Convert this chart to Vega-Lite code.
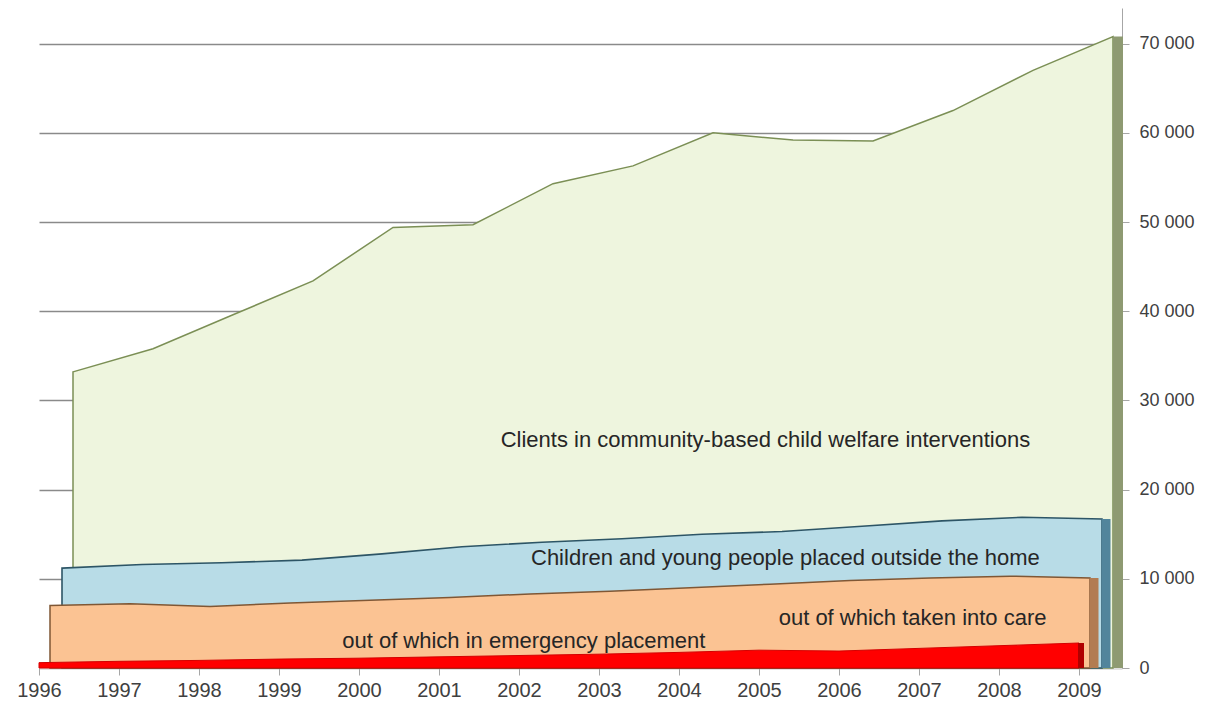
{
  "$schema": "https://vega.github.io/schema/vega-lite/v6.json",
  "width": 1083,
  "height": 660,
  "autosize": {"type": "none"},
  "padding": {"left": 39, "top": 8, "right": 86, "bottom": 45},
  "background": "white",
  "config": {"view": {"stroke": null}},
  "datasets": {
    "series": [
      {"year": 1996, "series": "clients", "value": 33200},
      {"year": 1997, "series": "clients", "value": 35800},
      {"year": 1998, "series": "clients", "value": 39600},
      {"year": 1999, "series": "clients", "value": 43400},
      {"year": 2000, "series": "clients", "value": 49400},
      {"year": 2001, "series": "clients", "value": 49700},
      {"year": 2002, "series": "clients", "value": 54300},
      {"year": 2003, "series": "clients", "value": 56300},
      {"year": 2004, "series": "clients", "value": 60000},
      {"year": 2005, "series": "clients", "value": 59200},
      {"year": 2006, "series": "clients", "value": 59100},
      {"year": 2007, "series": "clients", "value": 62500},
      {"year": 2008, "series": "clients", "value": 67000},
      {"year": 2009, "series": "clients", "value": 70800},
      {"year": 1996, "series": "outside", "value": 11200},
      {"year": 1997, "series": "outside", "value": 11600},
      {"year": 1998, "series": "outside", "value": 11800},
      {"year": 1999, "series": "outside", "value": 12100},
      {"year": 2000, "series": "outside", "value": 12800},
      {"year": 2001, "series": "outside", "value": 13600},
      {"year": 2002, "series": "outside", "value": 14100},
      {"year": 2003, "series": "outside", "value": 14500},
      {"year": 2004, "series": "outside", "value": 15000},
      {"year": 2005, "series": "outside", "value": 15300},
      {"year": 2006, "series": "outside", "value": 15900},
      {"year": 2007, "series": "outside", "value": 16500},
      {"year": 2008, "series": "outside", "value": 16900},
      {"year": 2009, "series": "outside", "value": 16700},
      {"year": 1996, "series": "care", "value": 7000},
      {"year": 1997, "series": "care", "value": 7200},
      {"year": 1998, "series": "care", "value": 6900},
      {"year": 1999, "series": "care", "value": 7300},
      {"year": 2000, "series": "care", "value": 7600},
      {"year": 2001, "series": "care", "value": 7900},
      {"year": 2002, "series": "care", "value": 8300},
      {"year": 2003, "series": "care", "value": 8600},
      {"year": 2004, "series": "care", "value": 9000},
      {"year": 2005, "series": "care", "value": 9400},
      {"year": 2006, "series": "care", "value": 9800},
      {"year": 2007, "series": "care", "value": 10100},
      {"year": 2008, "series": "care", "value": 10300},
      {"year": 2009, "series": "care", "value": 10100},
      {"year": 1996, "series": "emergency", "value": 600},
      {"year": 1997, "series": "emergency", "value": 750},
      {"year": 1998, "series": "emergency", "value": 850},
      {"year": 1999, "series": "emergency", "value": 1000},
      {"year": 2000, "series": "emergency", "value": 1100},
      {"year": 2001, "series": "emergency", "value": 1250},
      {"year": 2002, "series": "emergency", "value": 1400},
      {"year": 2003, "series": "emergency", "value": 1550},
      {"year": 2004, "series": "emergency", "value": 1750},
      {"year": 2005, "series": "emergency", "value": 2000},
      {"year": 2006, "series": "emergency", "value": 1900},
      {"year": 2007, "series": "emergency", "value": 2200},
      {"year": 2008, "series": "emergency", "value": 2500},
      {"year": 2009, "series": "emergency", "value": 2800}
    ],
    "labels": [
      {"year": 2005.08, "value": 24800, "text": "Clients in community-based child welfare interventions"},
      {"year": 2005.33, "value": 11550, "text": "Children and young people placed outside the home"},
      {"year": 2006.92, "value": 4820, "text": "out of which taken into care"},
      {"year": 2002.06, "value": 2240, "text": "out of which in emergency placement"}
    ]
  },
  "data": {"name": "series"},
  "encoding": {
    "x": {
      "field": "year", "type": "quantitative",
      "scale": {"domain": [1996, 2009.5375], "nice": false, "zero": false},
      "axis": {
        "title": null, "values": [1996,1997,1998,1999,2000,2001,2002,2003,2004,2005,2006,2007,2008,2009],
        "format": "d", "grid": false, "domainColor": "#e0e0e0", "tickColor": "#a6a6a6", "tickSize": 7,
        "labelFlush": false, "labelOverlap": false,
        "labelFontSize": 20, "labelColor": "#404040", "labelFont": "Liberation Sans", "labelPadding": 5
      }
    },
    "y": {
      "field": "value", "type": "quantitative",
      "scale": {"domain": [0, 74000], "nice": false},
      "axis": {
        "orient": "right", "title": null, "values": [0,10000,20000,30000,40000,50000,60000,70000],
        "labelExpr": "datum.value == 0 ? '0' : floor(datum.value/1000) + ' 000'",
        "grid": true, "gridColor": "#8a8a8a", "gridWidth": 1.6,
        "domainColor": "#a6a6a6", "tickColor": "#a6a6a6", "tickSize": 7,
        "labelFontSize": 18, "labelColor": "#404040", "labelFont": "Liberation Sans", "labelPadding": 10
      }
    }
  },
  "layer": [
    {
      "transform": [{"filter": "datum.series == 'clients'"}],
      "mark": {"type": "area", "xOffset": 34, "fill": "#eef5de", "stroke": "#7b8f55", "strokeWidth": 1.5, "fillOpacity": 1}
    },
    {
      "transform": [{"filter": "datum.series == 'clients' && datum.year == 2009"}],
      "mark": {"type": "rule", "xOffset": 39, "strokeWidth": 10, "color": "#8e9a72", "strokeCap": "butt"},
      "encoding": {"y2": {"datum": 0}}
    },
    {
      "transform": [{"filter": "datum.series == 'outside'"}],
      "mark": {"type": "area", "xOffset": 23, "fill": "#b8dce7", "stroke": "#2d5566", "strokeWidth": 1.6, "fillOpacity": 1}
    },
    {
      "transform": [{"filter": "datum.series == 'outside' && datum.year == 2009"}],
      "mark": {"type": "rule", "xOffset": 27, "strokeWidth": 9, "color": "#52859c", "strokeCap": "butt"},
      "encoding": {"y2": {"datum": 0}}
    },
    {
      "transform": [{"filter": "datum.series == 'care'"}],
      "mark": {"type": "area", "xOffset": 11, "fill": "#fbc393", "stroke": "#7f5735", "strokeWidth": 1.5, "fillOpacity": 1}
    },
    {
      "transform": [{"filter": "datum.series == 'care' && datum.year == 2009"}],
      "mark": {"type": "rule", "xOffset": 15, "strokeWidth": 9, "color": "#b27c52", "strokeCap": "butt"},
      "encoding": {"y2": {"datum": 0}}
    },
    {
      "transform": [{"filter": "datum.series == 'emergency'"}],
      "mark": {"type": "area", "xOffset": 0, "fill": "#ff0000", "stroke": "#d40000", "strokeWidth": 1, "fillOpacity": 1}
    },
    {
      "transform": [{"filter": "datum.series == 'emergency' && datum.year == 2009"}],
      "mark": {"type": "rule", "xOffset": 2, "strokeWidth": 6, "color": "#b00000", "strokeCap": "butt"},
      "encoding": {"y2": {"datum": 0}}
    },
    {
      "data": {"name": "labels"},
      "mark": {"type": "text", "font": "Liberation Sans", "fontSize": 22, "color": "#262626", "align": "center", "baseline": "alphabetic"},
      "encoding": {"text": {"field": "text"}}
    }
  ]
}
